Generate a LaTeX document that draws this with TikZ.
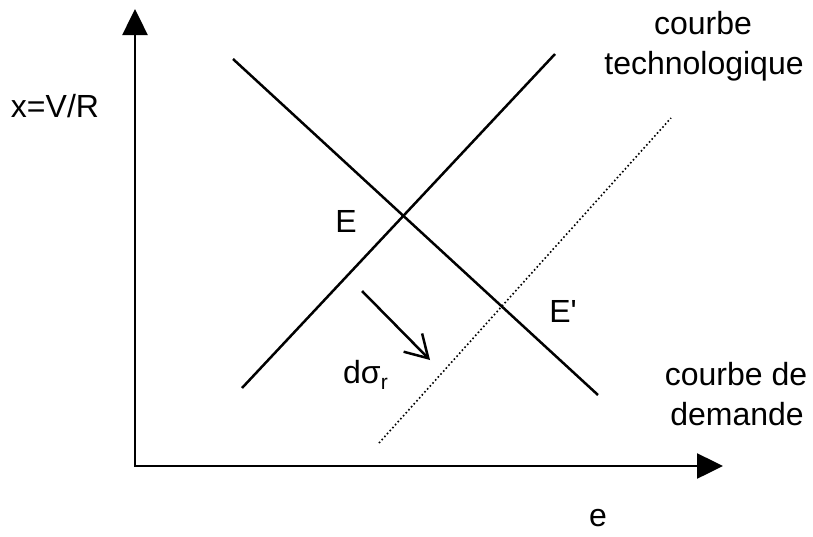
\documentclass[tikz,border=0pt]{standalone}
\usepackage{fontspec}
\setmainfont{Liberation Sans}
\usetikzlibrary{arrows.meta}
\begin{document}
\begin{tikzpicture}[x=1pt,y=-1pt,
  axisline/.style={line width=2.5pt,line join=miter,{Triangle[length=26pt,width=25pt]}-{Triangle[length=26pt,width=25pt]}},
  curveline/.style={line width=2.5pt},
  shiftline/.style={line width=1.6pt,dash pattern=on 1.6pt off 2.4pt},
  movearrow/.style={line width=2.5pt,-{Straight Barb[length=22pt,width=26pt]}},
  lbl/.style={font=\fontsize{32}{40}\selectfont,inner sep=0pt}]
\useasboundingbox (0,0) rectangle (813,536);
% axes
\coordinate (ytop) at (135,9);
\coordinate (O) at (135,466);
\coordinate (xend) at (723,466);
\draw[axisline] (ytop) -- (O) -- (xend);
% curves
\coordinate (d1) at (233,59);
\coordinate (d2) at (598,395);
\coordinate (t1) at (242,388);
\coordinate (t2) at (555,54);
\coordinate (s1) at (379,443);
\coordinate (s2) at (671,118);
\draw[curveline] (d1) -- (d2);
\draw[curveline] (t1) -- (t2);
\draw[shiftline] (s1) -- (s2);
% movement arrow
\coordinate (m1) at (362,291);
\coordinate (m2) at (430,360);
\draw[movearrow] (m1) -- (m2);
% labels
\node[lbl,anchor=base] (ylab) at (55,117) {x=V/R};
\node[lbl,anchor=base] (tech1) at (703,34) {courbe};
\node[lbl,anchor=base] (tech2) at (704,74) {technologique};
\node[lbl,anchor=base] (dem1) at (736,385) {courbe de};
\node[lbl,anchor=base] (dem2) at (737,425) {demande};
\node[lbl,anchor=base] (E) at (346,232) {E};
\node[lbl,anchor=base] (Ep) at (563,322) {E\textquotesingle};
\node[lbl,anchor=base west] (dsig) at (343,383) {dσ\raisebox{-0.2em}{\fontsize{21}{24}\selectfont r}};
\node[lbl,anchor=base] (elab) at (598,526) {e};
\end{tikzpicture}
\end{document}
